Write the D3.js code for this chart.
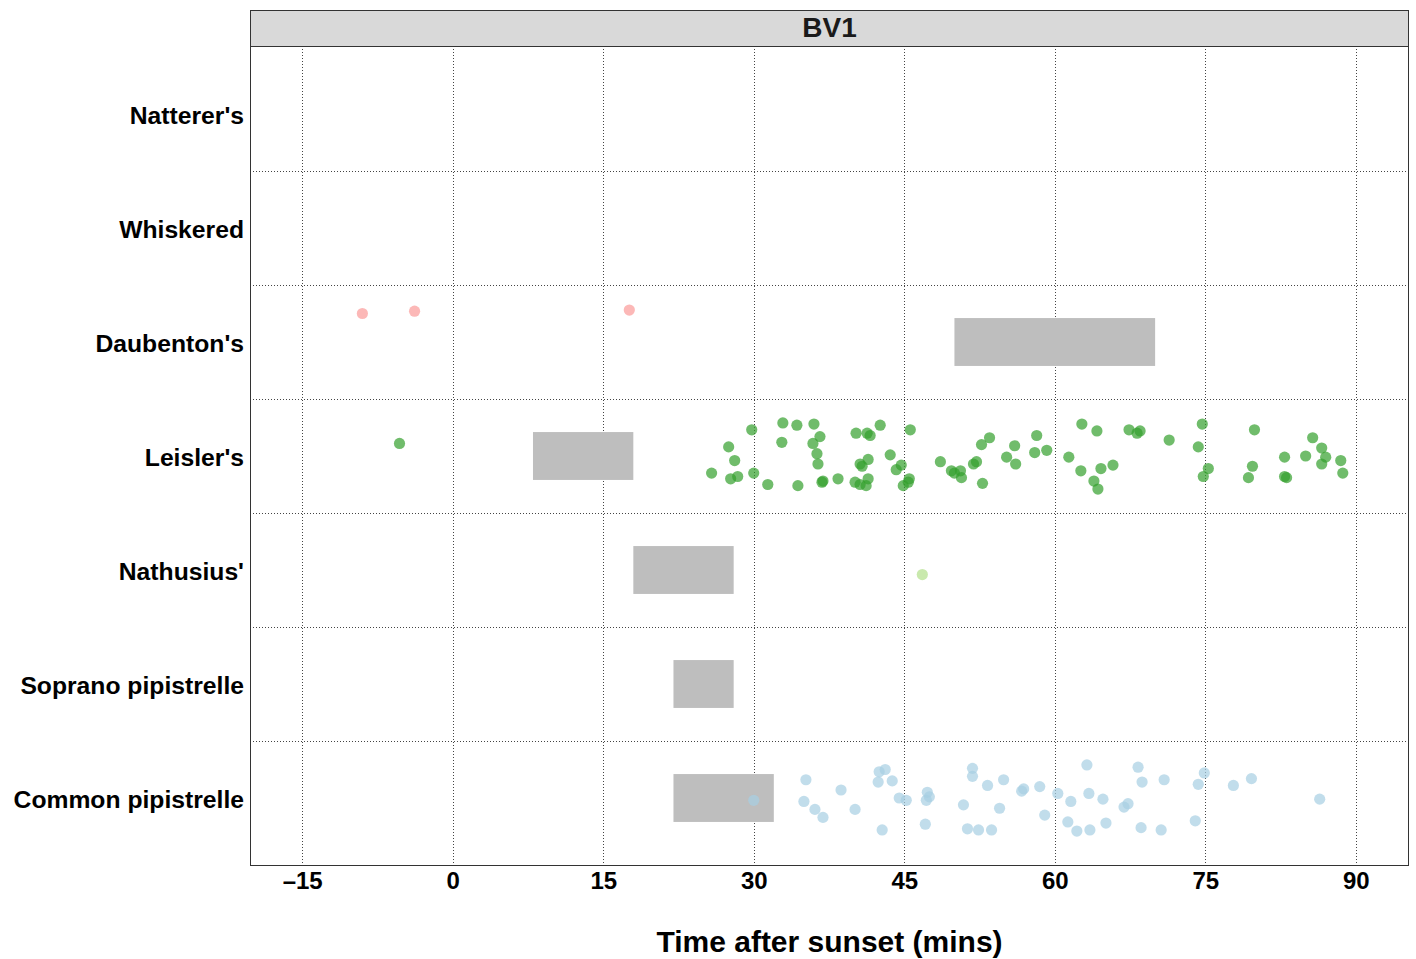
<!DOCTYPE html>
<html>
<head>
<meta charset="utf-8">
<script src="https://cdn.jsdelivr.net/npm/d3@7"></script>
<style>
  html, body { margin: 0; padding: 0; background: #fff; }
  svg { display: block; font-family: "Liberation Sans", Arial, Helvetica, sans-serif; }
</style>
</head>
<body>
<svg id="chart" width="1416" height="959"></svg>
<script>
// Species shown on the y axis, top to bottom
const species = ["Natterer's", "Whiskered", "Daubenton's", "Leisler's", "Nathusius'", "Soprano pipistrelle", "Common pipistrelle"];
const speciesColors = ["#FDBF6F", "#E31A1C", "#FB9A99", "#33A02C", "#B2DF8A", "#1F78B4", "#A6CEE3"];

// Shaded emergence windows (minutes after sunset)
const windowSpecies = ["Daubenton's", "Leisler's", "Nathusius'", "Soprano pipistrelle", "Common pipistrelle"];
const windowStart = [50, 8, 18, 22, 22];
const windowEnd   = [70, 18, 28, 28, 32];

// Recorded passes: [minutes after sunset, vertical jitter within the row]
const daubentons = [[-9.0, 0.25], [-3.8, 0.27], [17.6, 0.28]];
const nathusius = [[46.8, -0.04]];
const leislers = [
  [-5.3, 0.11],
  [25.8, -0.15], [27.5, 0.08], [28.1, -0.04], [27.7, -0.20], [28.4, -0.18], [29.8, 0.23], [30.0, -0.15],
  [31.4, -0.25], [32.9, 0.29], [32.8, 0.12], [34.3, 0.27], [34.4, -0.26], [36.0, 0.28], [36.6, 0.17],
  [35.9, 0.11], [36.3, 0.02], [36.4, -0.07], [36.9, -0.22], [36.8, -0.23], [38.4, -0.20], [40.2, 0.20],
  [41.3, 0.20], [41.6, 0.18], [42.6, 0.27], [40.6, -0.07], [40.8, -0.09], [41.4, -0.03], [40.1, -0.23],
  [40.6, -0.25], [41.2, -0.26], [41.4, -0.20], [43.6, 0.01], [44.7, -0.08], [44.2, -0.12], [45.6, 0.23],
  [45.5, -0.20], [45.4, -0.23], [44.9, -0.26], [48.6, -0.05], [49.7, -0.13], [50.0, -0.15], [50.6, -0.13],
  [50.7, -0.19], [51.9, -0.07], [52.2, -0.05], [52.7, 0.10], [53.5, 0.16], [52.8, -0.24], [55.2, -0.01],
  [56.1, -0.07], [56.0, 0.09], [58.2, 0.18], [58.0, 0.03], [59.2, 0.05], [62.7, 0.28], [64.2, 0.22],
  [61.4, -0.01], [62.6, -0.13], [64.6, -0.11], [65.8, -0.08], [63.9, -0.22], [64.3, -0.29], [67.4, 0.23],
  [68.2, 0.20], [68.5, 0.22], [71.4, 0.14], [74.7, 0.28], [74.3, 0.08], [75.3, -0.11], [74.8, -0.18],
  [79.9, 0.23], [79.7, -0.09], [79.3, -0.19], [82.9, -0.01], [82.9, -0.18], [83.1, -0.19], [85.7, 0.16],
  [86.6, 0.07], [87.0, -0.01], [86.6, -0.07], [85.0, 0.00], [88.5, -0.04], [88.7, -0.15]
];
const commonPip = [
  [30.0, -0.02], [35.2, 0.16], [35.0, -0.03], [36.1, -0.10], [36.9, -0.17], [38.7, 0.07], [40.1, -0.10],
  [42.5, 0.23], [43.1, 0.25], [42.4, 0.14], [43.8, 0.15], [42.8, -0.28], [44.5, 0.00], [45.2, -0.02],
  [47.3, 0.05], [47.5, 0.01], [47.2, -0.02], [47.1, -0.23], [51.8, 0.26], [51.8, 0.19], [53.3, 0.11],
  [54.9, 0.16], [50.9, -0.06], [54.5, -0.09], [51.3, -0.27], [52.4, -0.28], [53.7, -0.28], [56.9, 0.08],
  [56.7, 0.06], [58.5, 0.10], [60.3, 0.04], [59.0, -0.15], [61.6, -0.03], [61.3, -0.21], [63.2, 0.29],
  [63.4, 0.04], [64.8, -0.01], [62.2, -0.29], [63.5, -0.28], [65.1, -0.22], [66.9, -0.08], [67.3, -0.05],
  [68.3, 0.27], [68.7, 0.14], [70.9, 0.16], [68.6, -0.26], [70.6, -0.28], [74.9, 0.22], [74.3, 0.12],
  [74.0, -0.20], [77.8, 0.11], [79.6, 0.17], [86.4, -0.01]
];
const passes = [
  ["Daubenton's", daubentons],
  ["Leisler's", leislers],
  ["Nathusius'", nathusius],
  ["Common pipistrelle", commonPip]
];

const xTicks = [-15, 0, 15, 30, 45, 60, 75, 90];
const panelTitle = "BV1";
const xTitle = "Time after sunset (mins)";

// Layout
const svg = d3.select("#chart");
const panel = { left: 250, right: 1409, top: 46, bottom: 866 };
const strip = { top: 10, bottom: 46 };

const x = d3.scaleLinear().domain([-20.2, 95.3]).range([panel.left, panel.right]);
const y = d3.scalePoint().domain(species).range([114, 798]);
const step = y.step();
const color = d3.scaleOrdinal().domain(species).range(speciesColors);

// Gridlines: verticals at ticks, horizontals between species rows
const grid = svg.append("g").attr("stroke", "#444").attr("stroke-width", 1).attr("stroke-dasharray", "1,2");
grid.selectAll("line.v").data(xTicks).join("line")
  .attr("x1", d => Math.round(x(d)) + 0.5).attr("x2", d => Math.round(x(d)) + 0.5)
  .attr("y1", panel.top).attr("y2", panel.bottom);
grid.selectAll("line.h").data(species.slice(1)).join("line")
  .attr("x1", panel.left).attr("x2", panel.right)
  .attr("y1", d => Math.round(y(d) - step / 2) + 0.5)
  .attr("y2", d => Math.round(y(d) - step / 2) + 0.5);

// Emergence windows
svg.append("g").selectAll("rect").data(windowSpecies).join("rect")
  .attr("x", (d, i) => x(windowStart[i]))
  .attr("width", (d, i) => x(windowEnd[i]) - x(windowStart[i]))
  .attr("y", d => y(d) - 0.21 * step)
  .attr("height", 0.42 * step)
  .attr("fill", "#BEBEBE");

// Passes
const pts = svg.append("g");
passes.forEach(([sp, arr]) => {
  pts.selectAll(null).data(arr).join("circle")
    .attr("cx", d => x(d[0]))
    .attr("cy", d => y(sp) - d[1] * step)
    .attr("r", 5.6)
    .attr("fill", color(sp))
    .attr("fill-opacity", 0.7);
});

// Panel border
svg.append("rect")
  .attr("x", panel.left + 0.5).attr("y", panel.top + 0.5)
  .attr("width", panel.right - panel.left - 1).attr("height", panel.bottom - panel.top - 1)
  .attr("fill", "none").attr("stroke", "#333").attr("stroke-width", 1);

// Facet strip
svg.append("rect")
  .attr("x", panel.left + 0.5).attr("y", strip.top + 0.5)
  .attr("width", panel.right - panel.left - 1).attr("height", strip.bottom - strip.top)
  .attr("fill", "#D9D9D9").attr("stroke", "#333").attr("stroke-width", 1);
svg.append("text")
  .attr("x", (panel.left + panel.right) / 2).attr("y", (strip.top + strip.bottom) / 2 - 1)
  .attr("text-anchor", "middle").attr("dominant-baseline", "central")
  .attr("font-size", 28).attr("font-weight", "bold").attr("fill", "#1a1a1a")
  .text(panelTitle);

// X axis
const xAxis = d3.axisBottom(x).tickValues(xTicks).tickSize(0).tickPadding(6)
  .tickFormat(d => d < 0 ? "\u2013" + Math.abs(d) : String(d));
const gx = svg.append("g").attr("transform", `translate(0,${panel.bottom})`).call(xAxis);
gx.select(".domain").remove();
gx.selectAll("text").attr("font-size", 24).attr("font-weight", "bold").attr("fill", "#000")
  .attr("font-family", "'Liberation Sans', Arial, sans-serif");

// Y axis
const yAxis = d3.axisLeft(y).tickSize(0).tickPadding(6);
const gy = svg.append("g").attr("transform", `translate(${panel.left},0)`).call(yAxis);
gy.select(".domain").remove();
gy.selectAll("text").attr("font-size", 24.7).attr("font-weight", "bold").attr("fill", "#000")
  .attr("font-family", "'Liberation Sans', Arial, sans-serif")
  .attr("dy", "0.4em");

// Axis title
svg.append("text")
  .attr("x", (panel.left + panel.right) / 2).attr("y", 952)
  .attr("text-anchor", "middle")
  .attr("font-size", 30).attr("font-weight", "bold").attr("fill", "#000")
  .text(xTitle);
</script>
</body>
</html>
